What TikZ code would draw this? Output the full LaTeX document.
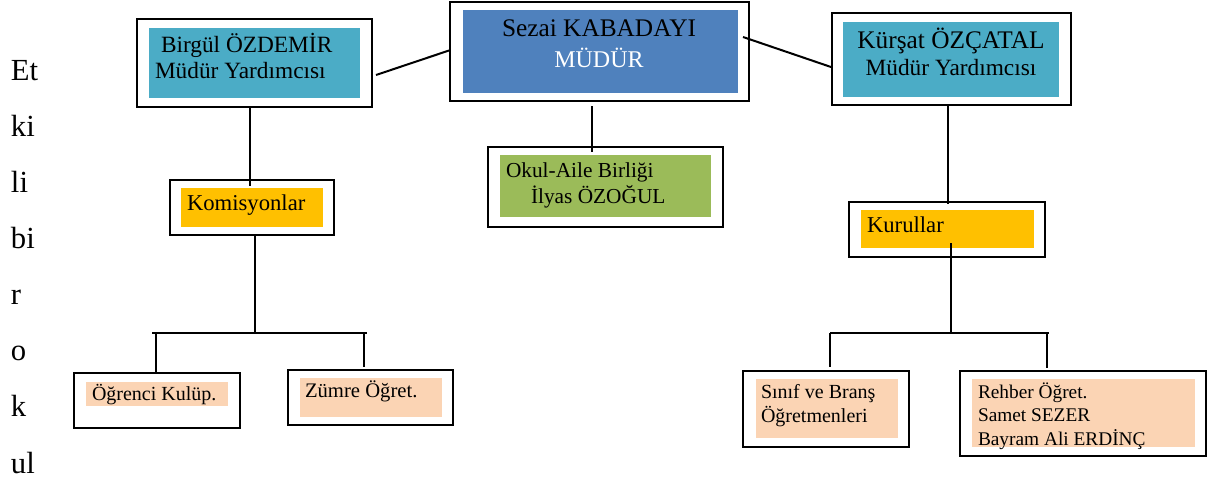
\documentclass[tikz,border=0pt]{standalone}
\usepackage{fontspec}
\setmainfont{Liberation Serif}
\usetikzlibrary{fit,calc}

\definecolor{aquafill}{RGB}{75,172,198}
\definecolor{bluefill}{RGB}{79,129,189}
\definecolor{greenfill}{RGB}{155,187,89}
\definecolor{orangefill}{RGB}{255,192,0}
\definecolor{peachfill}{RGB}{251,212,180}

\tikzset{every picture/.style={line width=1.5pt}}
\tikzset{
  outerbox/.style={draw=black, inner sep=0pt, fit={#1}},
  fillbox/.style={draw=none, inner sep=0pt, fit={#1}},
  lbl/.style={inner sep=0pt, anchor=base west, align=left},
  clbl/.style={inner sep=0pt, anchor=base, align=center}
}

\begin{document}
\begin{tikzpicture}[x=0.75pt,y=0.75pt,yscale=-1,xscale=1]
		\useasboundingbox (0,0) rectangle (1210,482);

		% left column text (placed at the last baseline)
		\node (sidetext) [lbl, font=\fontsize{23}{42.1}\selectfont] at (10,473) {Et\\ki\\li\\bi\\r\\o\\k\\ul};

		% top row
		\node (birgul) [outerbox={(137,19) (372,107)}] {};
		\node (birgulfill) [fillbox={(149,28) (360,98)}, fill=aquafill] {};
		\node (birgultext) [lbl, font=\fontsize{17.5}{19.5}\selectfont] at (154,78) {\hspace*{4.5pt}Birgül ÖZDEMİR\\Müdür Yardımcısı};

		\node (sezai) [outerbox={(450,2) (749,101)}] {};
		\node (sezaifill) [fillbox={(463,10) (738,93)}, fill=bluefill] {};
		\node (sezainame) [clbl, font=\fontsize{19}{22}\selectfont] at (599,36) {Sezai KABADAYI};
		\node (sezairole) [clbl, text=white, font=\fontsize{18}{22}\selectfont] at (599,67) {MÜDÜR};

		\node (kursat) [outerbox={(832,13) (1071,105)}] {};
		\node (kursatfill) [fillbox={(843,22) (1059,97)}, fill=aquafill] {};
		\node (kursatname) [clbl, font=\fontsize{19}{22}\selectfont] at (951,48) {Kürşat ÖZÇATAL};
		\node (kursatrole) [clbl, font=\fontsize{17.5}{20}\selectfont] at (951,75) {Müdür Yardımcısı};

		% second row
		\node (okul) [outerbox={(488,147) (723,227)}] {};
		\node (okulfill) [fillbox={(500,155) (711,217)}, fill=greenfill] {};
		\node (okultext) [lbl, font=\fontsize{16}{19.5}\selectfont] at (505,203) {Okul-Aile Birliği\\\hspace*{18.75pt}İlyas ÖZOĞUL};

		\node (komisyon) [outerbox={(170,180) (334,235)}] {};
		\node (komisyonfill) [fillbox={(181,188) (323,227)}, fill=orangefill] {};
		\node (komisyontext) [lbl, font=\fontsize{17}{20}\selectfont] at (186,210) {Komisyonlar};

		\node (kurul) [outerbox={(849,202) (1045,257)}] {};
		\node (kurulfill) [fillbox={(861,210) (1034,248)}, fill=orangefill] {};
		\node (kurultext) [lbl, font=\fontsize{17}{20}\selectfont] at (866,232) {Kurullar};

		% bottom row
		\node (ogrenci) [outerbox={(74,373) (240,428)}] {};
		\node (ogrencifill) [fillbox={(86,382) (228,406)}, fill=peachfill] {};
		\node (ogrencitext) [lbl, font=\fontsize{15}{18}\selectfont] at (91,400) {Öğrenci Kulüp.};

		\node (zumre) [outerbox={(288,370) (453,425)}] {};
		\node (zumrefill) [fillbox={(300,378) (442,417)}, fill=peachfill] {};
		\node (zumretext) [lbl, font=\fontsize{15.5}{18}\selectfont] at (304,397) {Zümre Öğret.};

		\node (sinif) [outerbox={(743,371) (909,447)}] {};
		\node (siniffill) [fillbox={(756,379) (898,438)}, fill=peachfill] {};
		\node (siniftext) [lbl, font=\fontsize{15}{18}\selectfont] at (760,422) {Sınıf ve Branş\\Öğretmenleri};

		\node (rehber) [outerbox={(960,371) (1206,456)}] {};
		\node (rehberfill) [fillbox={(972,379) (1195,447)}, fill=peachfill] {};
		\node (rehbertext) [lbl, font=\fontsize{14.5}{17.6}\selectfont] at (977,445) {Rehber Öğret.\\Samet SEZER\\Bayram Ali ERDİNÇ};

		% connectors
		\draw ($(birgul.east)+(3,12)$) -- ($(sezai.west)+(0,-1)$) ;
		\draw ($(sezai.east)+(-7,-14.5)$) -- ($(kursat.west)+(0,8)$) ;
		\draw ($(sezai.south)+(-7.5,4)$) -- ($(sezai.south |- okul.north)+(-7.5,6)$) ;
		\draw ($(birgul.south)+(-4.5,0)$) -- ($(birgul.south |- komisyon.north)+(-4.5,7)$) ;
		\draw ($(kursat.south)+(-3.5,0)$) -- ($(kursat.south |- kurul.north)+(-3.5,3)$) ;

		\coordinate (komjunc) at (255,333);
		\coordinate (kombarL) at (152,333);
		\coordinate (kombarR) at (367,333);
		\draw ($(komisyon.south)+(3,-2)$) -- (komjunc) ;
		\draw (kombarL) -- (kombarR) ;
		\draw ($(ogrenci.north |- komjunc)+(-1,0)$) -- ($(ogrenci.north)+(-1,0)$) ;
		\draw ($(zumre.north |- komjunc)+(-6.5,0)$) -- ($(zumre.north)+(-6.5,-2)$) ;

		\coordinate (kurjunc) at (951,333);
		\coordinate (kurbarL) at (830,333);
		\coordinate (kurbarR) at (1049,333);
		\draw ($(kurul.south)+(4,-15)$) -- (kurjunc) ;
		\draw (kurbarL) -- (kurbarR) ;
		\draw ($(sinif.north |- kurjunc)+(4,0)$) -- ($(sinif.north)+(4,-3)$) ;
		\draw ($(rehber.north |- kurjunc)+(-36,0)$) -- ($(rehber.north)+(-36,-2)$) ;

\end{tikzpicture}
\end{document}
